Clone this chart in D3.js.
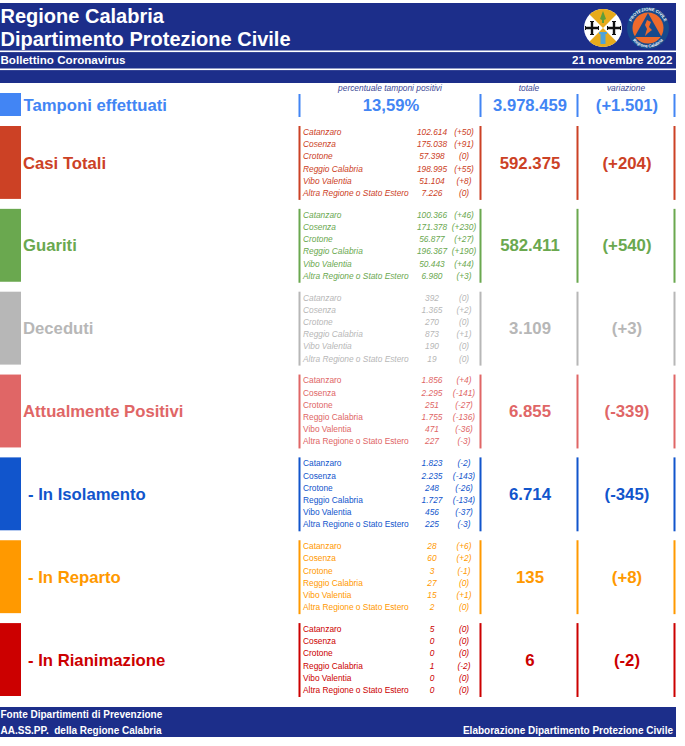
<!DOCTYPE html>
<html>
<head>
<meta charset="utf-8">
<script src="https://d3js.org/d3.v7.min.js"></script>
<style>
  html, body { margin: 0; padding: 0; background: #fff; }
  svg { display: block; font-family: "Liberation Sans", Arial, sans-serif; }
</style>
</head>
<body>
<svg id="chart" width="685" height="746"></svg>
<script>
// data read from the bulletin
const provinces = ["Catanzaro", "Cosenza", "Crotone", "Reggio Calabria", "Vibo Valentia", "Altra Regione o Stato Estero"];
const categories = ["Casi Totali", "Guariti", "Deceduti", "Attualmente Positivi", "- In Isolamento", "- In Reparto", "- In Rianimazione"];
const totals = [592375, 582411, 3109, 6855, 6714, 135, 6];
const changes = [204, 540, 3, -339, -345, 8, -2];
const casiValues = [102614, 175038, 57398, 198995, 51104, 7226];
const casiChanges = [50, 91, 0, 55, 8, 0];
const guaritiValues = [100366, 171378, 56877, 196367, 50443, 6980];
const guaritiChanges = [46, 230, 27, 190, 44, 3];
const decedutiValues = [392, 1365, 270, 873, 190, 19];
const decedutiChanges = [0, 2, 0, 1, 0, 0];
const positiviValues = [1856, 2295, 251, 1755, 471, 227];
const positiviChanges = [4, -141, -27, -136, -36, -3];
const isolamentoValues = [1823, 2235, 248, 1727, 456, 225];
const isolamentoChanges = [-2, -143, -26, -134, -37, -3];
const repartoValues = [28, 60, 3, 27, 15, 2];
const repartoChanges = [6, 2, -1, 0, 1, 0];
const rianimazioneValues = [5, 0, 0, 1, 0, 0];
const rianimazioneChanges = [0, 0, 0, -2, 0, 0];
const tamponiLabel = "Tamponi effettuati";
const tamponiPercent = 13.59;
const tamponiTotal = 3978459;
const tamponiChange = 1501;

const rowValues = [casiValues, guaritiValues, decedutiValues, positiviValues, isolamentoValues, repartoValues, rianimazioneValues];
const rowChanges = [casiChanges, guaritiChanges, decedutiChanges, positiviChanges, isolamentoChanges, repartoChanges, rianimazioneChanges];

const navy = "#1c2e8a";
const tamponiColor = "#4285f4";
const color = d3.scaleOrdinal()
  .domain(categories)
  .range(["#cc4125", "#6aa84f", "#b7b7b7", "#e06666", "#1155cc", "#ff9900", "#cc0000"]);
const italicRows = ["Casi Totali", "Guariti", "Deceduti"];

const it = d3.formatLocale({ decimal: ",", thousands: ".", grouping: [3], currency: ["", ""], minus: "-" });
const fmt = it.format(",d");
const fmtChange = d => "(" + (d > 0 ? "+" : "") + fmt(d) + ")";

const svg = d3.select("#chart");

// column positions
const colBars = [299, 480, 577, 674];
const colName = 303, colValue = 432, colDiff = 464, colTotal = 530, colVar = 627, colPerc = 391;

const y = d3.scaleBand().domain(categories).range([126, 696]).paddingInner(0.12);
const yLine = d3.scalePoint().domain(provinces).range([6, 67]);

// header
svg.append("rect").attr("x", 0).attr("y", 3).attr("width", 676).attr("height", 80).attr("fill", navy);
svg.selectAll(".hline").data([50.5, 68.5]).join("rect")
  .attr("x", 0).attr("y", d => d).attr("width", 676).attr("height", 1.6).attr("fill", "#fff");

function headText(x, yy, txt, size, anchor) {
  return svg.append("text").attr("x", x).attr("y", yy).attr("font-size", size)
    .attr("font-weight", "bold").attr("fill", "#fff").attr("text-anchor", anchor || "start").text(txt);
}
headText(0.5, 23, "Regione Calabria", 20);
headText(0.5, 46, "Dipartimento Protezione Civile", 20);
headText(0.5, 64, "Bollettino Coronavirus", 11.6);
headText(672.5, 64, "21 novembre 2022", 11.6, "end");

// regional coat of arms
const arms = svg.append("g").attr("transform", "translate(603,28)");
arms.append("circle").attr("r", 19).attr("fill", "#fff");
const wedge = d3.arc().innerRadius(0).outerRadius(19);
[0, Math.PI].forEach(a => arms.append("path")
  .attr("d", wedge({ startAngle: a - Math.PI / 4, endAngle: a + Math.PI / 4 })).attr("fill", "#e8ab1c"));
arms.append("path").attr("d", "M0,-17 L3,-9 L1,-8 L1,-5 L-1,-5 L-1,-8 L-3,-9 Z").attr("fill", "#5f9e3a");
arms.append("path").attr("d", "M-4,4 H4 V6 H2.5 V16 H-2.5 V6 H-4 Z").attr("fill", "#4fa3d8");
[-11, 11].forEach(cx => {
  arms.append("path").attr("d", `M${cx - 6.5},0 H${cx + 6.5} M${cx},-6.5 V6.5`)
    .attr("stroke", "#111").attr("stroke-width", 2.4);
  arms.append("path").attr("d", `M${cx - 6.5},-2 V2 M${cx + 6.5},-2 V2 M${cx - 2},-6.5 H${cx + 2} M${cx - 2},6.5 H${cx + 2}`)
    .attr("stroke", "#111").attr("stroke-width", 1);
});

// civil protection logo
const logo = svg.append("g").attr("transform", "translate(648,28)");
logo.append("circle").attr("r", 21).attr("fill", "#174a8c");
logo.append("circle").attr("r", 15.5).attr("fill", "#ee6a2c");
logo.append("path").attr("d", "M0,-15 L13.5,9 H-13.5 Z").attr("fill", "#174a8c");
logo.append("path").attr("d", "M-1,-8 L3,-6 L1,-1 L4,2 L0,5 L-3,8 L-2,4 L-1,1 L-3,-3 Z").attr("fill", "#ee6a2c");
logo.append("path").attr("id", "arcTop").attr("d", "M-17.5,0 A17.5,17.5 0 0 1 17.5,0").attr("fill", "none");
logo.append("path").attr("id", "arcBottom").attr("d", "M-19.5,0 A19.5,19.5 0 0 0 19.5,0").attr("fill", "none");
[["arcTop", "PROTEZIONE CIVILE"], ["arcBottom", "Regione Calabria"]].forEach(([id, txt]) => {
  logo.append("text").attr("font-size", 4.2).attr("font-weight", "bold").attr("fill", "#fff").attr("text-anchor", "middle")
    .append("textPath").attr("href", "#" + id).attr("startOffset", "50%").text(txt);
});

// column captions
const captions = [[colPerc - 1, "percentuale tamponi positivi"], [colTotal - 1, "totale"], [colVar - 1, "variazione"]];
svg.selectAll(".cap").data(captions).join("text")
  .attr("x", d => d[0]).attr("y", 91).attr("font-size", 8.4).attr("font-style", "italic")
  .attr("text-anchor", "middle").attr("fill", "#3a4795").text(d => d[1]);

// tamponi row
svg.append("rect").attr("x", 0).attr("y", 93).attr("width", 21).attr("height", 23).attr("fill", tamponiColor);
svg.selectAll(".tbar").data(colBars).join("rect")
  .attr("x", d => d - 0.5).attr("y", 94).attr("width", 2).attr("height", 23).attr("fill", tamponiColor);
svg.append("text").attr("x", 23.5).attr("y", 111).attr("font-size", 16.7).attr("font-weight", "bold")
  .attr("fill", tamponiColor).text(tamponiLabel);
[[colPerc, it.format(".2f")(tamponiPercent) + "%"], [colTotal, fmt(tamponiTotal)], [colVar, fmtChange(tamponiChange)]]
  .forEach(([x, txt]) => svg.append("text").attr("x", x).attr("y", 111).attr("font-size", 16.6)
    .attr("font-weight", "bold").attr("text-anchor", "middle").attr("fill", tamponiColor).text(txt));

// category rows
categories.forEach((cat, i) => {
  const g = svg.append("g").attr("transform", `translate(0,${y(cat)})`);
  const c = color(cat);
  const h = y.bandwidth();
  const mid = h / 2 + 0.3;
  g.append("rect").attr("x", 0).attr("y", 0).attr("width", 21).attr("height", h).attr("fill", c);
  g.selectAll(".bar").data(colBars).join("rect")
    .attr("x", d => d - 0.5).attr("y", 0).attr("width", 2).attr("height", h + 1).attr("fill", c);

  const indented = cat.startsWith("-");
  g.append("text").attr("x", indented ? 28 : 23).attr("y", mid).attr("dy", "0.35em")
    .attr("font-size", 16.7).attr("font-weight", "bold").attr("fill", c).text(cat);
  g.append("text").attr("x", colTotal).attr("y", mid).attr("dy", "0.35em").attr("font-size", 16.8)
    .attr("font-weight", "bold").attr("text-anchor", "middle").attr("fill", c).text(fmt(totals[i]));
  g.append("text").attr("x", colVar).attr("y", mid).attr("dy", "0.35em").attr("font-size", 16.8)
    .attr("font-weight", "bold").attr("text-anchor", "middle").attr("fill", c).text(fmtChange(changes[i]));

  provinces.forEach((p, j) => {
    const line = g.append("g").attr("transform", `translate(0,${yLine(p)})`)
      .attr("font-size", 8.35).attr("fill", c);
    line.append("text").attr("x", colName).attr("dy", "0.35em")
      .attr("font-style", italicRows.includes(cat) ? "italic" : "normal").text(p);
    line.append("text").attr("x", colValue).attr("dy", "0.35em").attr("font-style", "italic")
      .attr("text-anchor", "middle").text(fmt(rowValues[i][j]));
    line.append("text").attr("x", colDiff).attr("dy", "0.35em").attr("font-style", "italic")
      .attr("text-anchor", "middle").text(fmtChange(rowChanges[i][j]));
  });
});

// footer
svg.append("rect").attr("x", 0).attr("y", 707).attr("width", 676).attr("height", 30).attr("fill", navy);
headText(0.5, 718, "Fonte Dipartimenti di Prevenzione", 10);
svg.append("text").attr("x", 0.5).attr("y", 733.5).attr("font-size", 10).attr("font-weight", "bold")
  .attr("fill", "#fff").style("white-space", "pre").text("AA.SS.PP.  della Regione Calabria");
headText(673, 733.5, "Elaborazione Dipartimento Protezione Civile", 10, "end");
</script>
</body>
</html>
